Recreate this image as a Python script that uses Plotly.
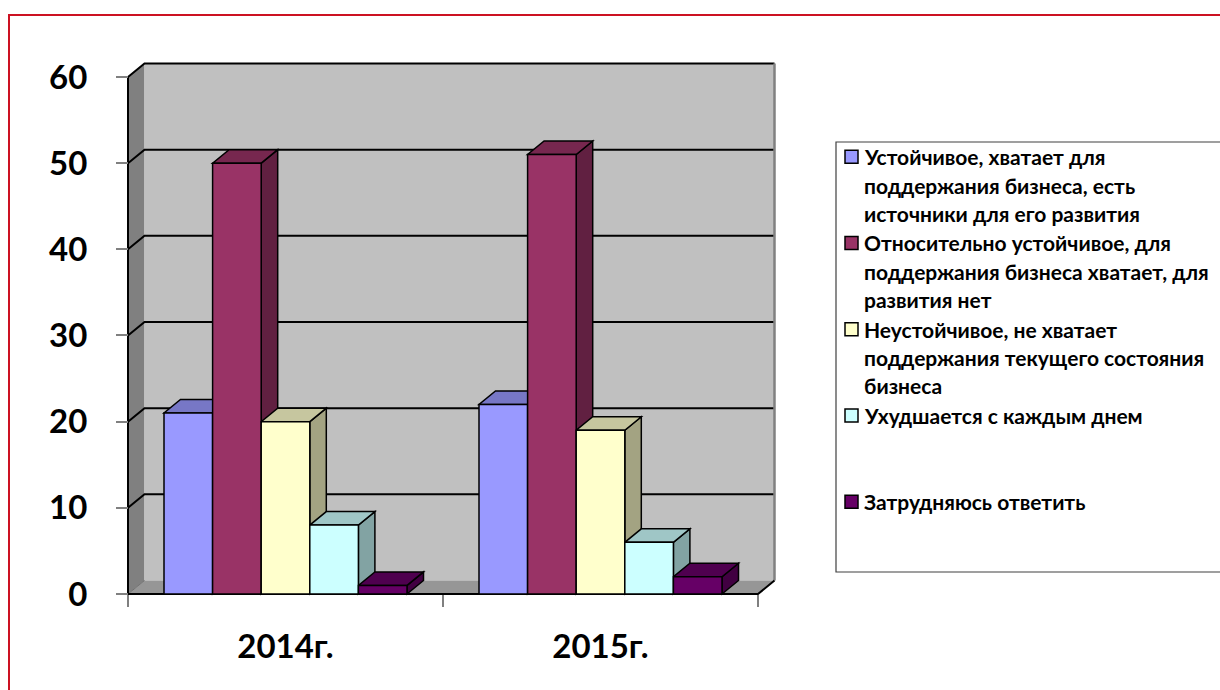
import plotly.graph_objects as go

# ---------------- data ----------------
categories = ["2014г.", "2015г."]
series_names = [
    "Устойчивое, хватает для|поддержания бизнеса, есть|источники для его развития",
    "Относительно устойчивое, для|поддержания бизнеса хватает, для|развития нет",
    "Неустойчивое, не хватает|поддержания текущего состояния|бизнеса",
    "Ухудшается с каждым днем",
    "Затрудняюсь ответить",
]
values_stable = [21, 22]
values_rel_stable = [50, 51]
values_unstable = [20, 19]
values_worse = [8, 6]
values_unsure = [1, 2]
series_values = [values_stable, values_rel_stable, values_unstable, values_worse, values_unsure]
y_ticks = [0, 10, 20, 30, 40, 50, 60]
colors = ["#9999FF", "#993366", "#FFFFCC", "#CCFFFF", "#660066"]

# ---------------- geometry / calibration ----------------
W, H = 1220, 690
L, R, T, B = 100, 800, 40, 620          # plot area in pixels
PX0, PXU = 128, 315.0                    # pixel of x=-0.5, px per category
PY0, PYU = 594, 8.617                    # pixel of value 0, px per unit
xr = [-0.5 + (L - PX0) / PXU, -0.5 + (R - PX0) / PXU]
yr = [(PY0 - B) / PYU, (PY0 - T) / PYU]
DX = 16.5 / PXU
DY = 13.5 / PYU
BW = 48.6 / PXU
NS = len(series_values)
YMAX = y_ticks[-1]
X0, X1 = -0.5, len(categories) - 0.5

FONT = "Lato, 'Open Sans', sans-serif"


def fx(p):
    return (p - L) / (R - L)


def fy(p):
    return (B - p) / (B - T)


def shade(hexc, f):
    h = hexc.lstrip("#")
    r, g, b = (int(h[i:i + 2], 16) for i in (0, 2, 4))
    return "#%02X%02X%02X" % (int(r * f), int(g * f), int(b * f))


def path(pts):
    return "M " + " L ".join(f"{x},{y}" for x, y in pts) + " Z"


shapes = []


def poly(pts, fill, line="rgba(0,0,0,0)", lw=0):
    shapes.append(dict(type="path", path=path(pts), xref="x", yref="y",
                       fillcolor=fill, line=dict(color=line, width=lw), layer="below"))


def seg(pts, color, width):
    shapes.append(dict(type="path", path="M " + " L ".join(f"{x},{y}" for x, y in pts),
                       xref="x", yref="y", line=dict(color=color, width=width), layer="below"))


# walls and floor
poly([(X0, 0), (X0, YMAX), (X0 + DX, YMAX + DY), (X0 + DX, DY)], "#808080")
poly([(X0 + DX, DY), (X1 + DX, DY), (X1 + DX, YMAX + DY), (X0 + DX, YMAX + DY)], "#C0C0C0")
poly([(X0, 0), (X1, 0), (X1 + DX, DY), (X0 + DX, DY)], "#969696")
seg([(X0, 0), (X0 + DX, DY)], "#707070", 1)
# gridlines
for v in y_ticks[1:]:
    seg([(X0, v), (X0 + DX, v + DY), (X1 + DX, v + DY)], "#000000", 2)
seg([(X1 + DX, DY), (X1 + DX, YMAX + DY)], "#808080", 2.5)
seg([(X0, 0), (X1, 0), (X1 + DX, DY)], "#000000", 2)
seg([(X0, 0), (X0, YMAX)], "#000000", 2)

# 3D sides / tops of bars (drawn below the front faces)
for c in range(len(categories)):
    for i, vals in enumerate(series_values):
        v = vals[c]
        l = c - NS * BW / 2 + i * BW
        r = l + BW
        poly([(r, 0), (r, v), (r + DX, v + DY), (r + DX, DY)], shade(colors[i], 0.64), "#000000", 1.5)
        poly([(l, v), (r, v), (r + DX, v + DY), (l + DX, v + DY)], shade(colors[i], 0.78), "#000000", 1.5)

fig = go.Figure()
for i, vals in enumerate(series_values):
    fig.add_trace(go.Bar(
        x=list(range(len(categories))), y=vals,
        width=BW, offset=-NS * BW / 2 + i * BW,
        marker=dict(color=colors[i], line=dict(color="#000000", width=1.5)),
        name=series_names[i].replace("|", " "), showlegend=False,
    ))

# legend (manual, Excel style)
leg_top, leg_step, line_h = 156.7, 86.25, 28.3
shapes.append(dict(type="rect", xref="paper", yref="paper",
                   x0=fx(836), x1=fx(1240), y0=fy(142), y1=fy(572),
                   line=dict(color="#404040", width=1.2), fillcolor="rgba(0,0,0,0)", layer="above"))
annotations = []
for i, name in enumerate(series_names):
    yc = leg_top + i * leg_step
    shapes.append(dict(type="rect", xref="paper", yref="paper",
                       x0=fx(845), x1=fx(858), y0=fy(yc - 6.5), y1=fy(yc + 6.5),
                       fillcolor=colors[i], line=dict(color="#000000", width=1.5), layer="above"))
    for k, line in enumerate(name.split("|")):
        annotations.append(dict(xref="paper", yref="paper", x=fx(862), y=fy(yc + k * line_h),
                                xanchor="left", yanchor="middle", text=line, showarrow=False,
                                font=dict(family=FONT, size=21, color="#000000", weight="bold")))

# red outer border
shapes.append(dict(type="rect", xref="paper", yref="paper",
                   x0=fx(9), x1=fx(1240), y0=fy(700), y1=fy(15),
                   line=dict(color="#CC1122", width=2), fillcolor="rgba(0,0,0,0)", layer="above"))

fig.update_layout(
    width=W, height=H,
    margin=dict(l=L, r=W - R, t=T, b=H - B),
    paper_bgcolor="#FFFFFF", plot_bgcolor="rgba(0,0,0,0)",
    barmode="overlay",
    shapes=shapes, annotations=annotations,
    xaxis=dict(range=xr, tickvals=list(range(len(categories))), ticktext=categories,
               ticks="", showgrid=False, zeroline=False, showline=False,
               anchor="free", position=fy(PY0), ticklabelstandoff=30,
               tickfont=dict(family=FONT, size=33, color="#000000", weight="bold"),
               minor=dict(tickvals=[X0 + k for k in range(len(categories) + 1)], ticks="outside",
                          ticklen=12, tickcolor="#808080", tickwidth=1.5, showgrid=False),
               fixedrange=True),
    yaxis=dict(range=yr, tickvals=y_ticks, ticks="outside", ticklen=12, tickcolor="#808080",
               tickwidth=1.5, showgrid=False, zeroline=False, showline=False,
               anchor="free", position=fx(PX0), ticklabelstandoff=22,
               tickfont=dict(family=FONT, size=33, color="#000000", weight="bold"),
               fixedrange=True),
)

fig.write_html("out.html", config={"displayModeBar": False},
               post_script="document.body.style.margin='0';")
